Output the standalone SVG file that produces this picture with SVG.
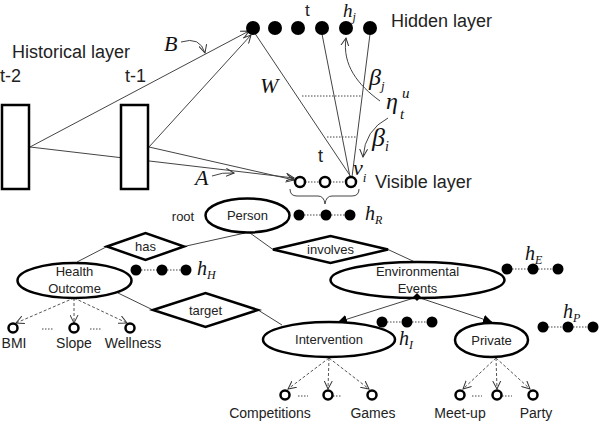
<svg xmlns="http://www.w3.org/2000/svg" width="600" height="421" viewBox="0 0 600 421">
<defs>
<marker id="open" markerWidth="9" markerHeight="9" refX="8" refY="4.5" orient="auto" markerUnits="userSpaceOnUse"><path d="M0,0.5 L8,4.5 L0,8.5" fill="none" stroke="#333" stroke-width="1"/></marker>
<marker id="filled" markerWidth="10" markerHeight="10" refX="9" refY="5" orient="auto" markerUnits="userSpaceOnUse"><path d="M0,0.5 L9,5 L0,9.5 z" fill="#000"/></marker>
<style>
.lbl{font-family:"Liberation Sans",Arial,sans-serif;fill:#222}
.big{font-size:18px}
.node{font-size:13px;text-anchor:middle}
.leaf{font-size:14px;text-anchor:middle}
.math{font-family:"Liberation Serif","Times New Roman",serif;font-style:italic;fill:#111}
.ell{fill:#fff;stroke:#000;stroke-width:2.5}
.box{fill:#fff;stroke:#000;stroke-width:2.5}
.dot{fill:#000}
.open{fill:#fff;stroke:#000;stroke-width:2.5}
.line{stroke:#444;stroke-width:1;fill:none}
.dotted{stroke:#444;stroke-width:1;stroke-dasharray:1.5,1.5;fill:none}
.dash{stroke:#555;stroke-width:1;stroke-dasharray:3,2;fill:none}
</style>
</defs>

<g id="connectors">
<line class="line" x1="30" y1="147" x2="249" y2="31" marker-end="url(#open)"/>
<line class="line" x1="30" y1="147" x2="294" y2="178" marker-end="url(#open)"/>
<line class="line" x1="149" y1="147" x2="251" y2="35" marker-end="url(#open)"/>
<line class="line" x1="149" y1="147" x2="294" y2="180" marker-end="url(#open)"/>
<line class="line" x1="254" y1="32" x2="351" y2="177"/>
<line class="line" x1="322" y1="34" x2="350" y2="177"/>
<line class="line" x1="370" y1="34" x2="352" y2="177"/>
<line class="dotted" x1="302" y1="96" x2="361" y2="96"/>
<line class="dotted" x1="327" y1="137" x2="356" y2="137"/>
<path class="line" d="M181,42 Q200,36 205,53" marker-end="url(#open)"/>
<path class="line" d="M212,176 Q222,172 234,173" marker-end="url(#open)"/>
<path class="line" d="M380,101 C358,85 342,65 346,38" marker-end="url(#open)"/>
<path class="line" d="M388,118 Q365,130 363,157" marker-end="url(#open)"/>
<path class="line" d="M290,189 Q290,196 297,196 L318,196 Q324,196 325,204 Q326,196 332,196 L352,196 Q359,196 359,189"/>
<line class="dotted" x1="305" y1="182" x2="320" y2="182"/>
<line class="dotted" x1="330" y1="182" x2="346" y2="182"/>

<line class="line" x1="245" y1="233" x2="184" y2="246.5"/>
<line class="line" x1="107" y1="246.5" x2="77" y2="262"/>
<line class="line" x1="250" y1="233" x2="273" y2="249.5"/>
<line class="line" x1="388" y1="249.5" x2="415" y2="262"/>
<line class="line" x1="118" y1="293" x2="153" y2="310"/>
<line class="line" x1="258" y1="310" x2="282" y2="325"/>
<line class="line" x1="417" y1="297" x2="338" y2="322" marker-end="url(#filled)"/>
<line class="line" x1="417" y1="297" x2="492" y2="322" marker-end="url(#filled)"/>

<line class="dash" x1="74" y1="298" x2="16" y2="323" marker-end="url(#open)"/>
<line class="dash" x1="74" y1="298" x2="74" y2="323" marker-end="url(#open)"/>
<line class="dash" x1="74" y1="298" x2="127" y2="323" marker-end="url(#open)"/>
<line class="dash" x1="329" y1="358" x2="288" y2="389" marker-end="url(#open)"/>
<line class="dash" x1="329" y1="358" x2="328" y2="389" marker-end="url(#open)"/>
<line class="dash" x1="329" y1="358" x2="369" y2="389" marker-end="url(#open)"/>
<line class="dash" x1="496" y1="358" x2="463" y2="389" marker-end="url(#open)"/>
<line class="dash" x1="496" y1="358" x2="497" y2="389" marker-end="url(#open)"/>
<line class="dash" x1="496" y1="358" x2="530" y2="389" marker-end="url(#open)"/>

<line class="dotted" x1="42" y1="329" x2="53" y2="329"/>
<line class="dotted" x1="90" y1="329" x2="102" y2="329"/>
<line class="dotted" x1="298" y1="396" x2="308" y2="396"/>
<line class="dotted" x1="333" y1="396" x2="341" y2="396"/>
<line class="dotted" x1="472" y1="396" x2="482" y2="396"/>
<line class="dotted" x1="502" y1="396" x2="512" y2="396"/>

<line class="dotted" x1="304" y1="215" x2="321" y2="215"/>
<line class="dotted" x1="331" y1="215" x2="345" y2="215"/>
<line class="dotted" x1="141" y1="270" x2="157" y2="270"/>
<line class="dotted" x1="167" y1="270" x2="181" y2="270"/>
<line class="dotted" x1="512" y1="269" x2="528" y2="269"/>
<line class="dotted" x1="538" y1="269" x2="553" y2="269"/>
<line class="dotted" x1="387" y1="322" x2="402" y2="322"/>
<line class="dotted" x1="412" y1="322" x2="427" y2="322"/>
<line class="dotted" x1="548" y1="327" x2="563" y2="327"/>
<line class="dotted" x1="573" y1="327" x2="588" y2="327"/>
</g>

<g id="historical">
<text class="lbl" x="12" y="58" font-size="18">Historical layer</text>
<text class="lbl big" x="0" y="82">t-2</text>
<text class="lbl big" x="125" y="82">t-1</text>
<rect id="rect-t2" class="box" x="2" y="105" width="27" height="84"/>
<rect id="rect-t1" class="box" x="121" y="105" width="27" height="84"/>
<text class="math" x="164" y="51" font-size="22">B</text>
<text class="math" x="195" y="185" font-size="22">A</text>
</g>

<g id="hidden-layer">
<circle class="dot" cx="253" cy="28" r="7"/>
<circle class="dot" cx="275" cy="28" r="7"/>
<circle class="dot" cx="298" cy="28" r="7"/>
<circle class="dot" cx="322" cy="28" r="7"/>
<circle class="dot" cx="346" cy="28" r="7"/>
<circle class="dot" cx="370" cy="28" r="7"/>
<text class="lbl" x="305" y="16" font-size="17">t</text>
<text class="math" x="343" y="17" font-size="19">h<tspan font-size="12" dy="4">j</tspan></text>
<text class="lbl big" x="391" y="27">Hidden layer</text>
<text class="math" x="260" y="93" font-size="22">W</text>
<text class="math" x="369" y="85" font-size="24">β<tspan font-size="13" dy="5">j</tspan></text>
<text class="math" x="386" y="109" font-size="24">η</text>
<text class="math" x="402" y="98" font-size="15">u</text>
<text class="math" x="400" y="119" font-size="15">t</text>
<text class="math" x="372" y="146" font-size="26">β<tspan font-size="14" dy="5">i</tspan></text>
</g>

<g id="visible-layer">
<circle class="open" cx="300" cy="182" r="5"/>
<circle class="open" cx="325" cy="182" r="5"/>
<circle class="open" cx="351" cy="182" r="5"/>
<text class="lbl big" x="318" y="162">t</text>
<text class="math" x="353" y="175" font-size="22">v<tspan font-size="13" dy="7">i</tspan></text>
<text class="lbl big" x="375" y="188">Visible layer</text>
</g>

<g id="person">
<ellipse class="ell" cx="247.5" cy="215.5" rx="42" ry="17"/>
<text class="lbl node" x="247.5" y="220">Person</text>
<text class="lbl node" x="183" y="221">root</text>
<circle class="dot" cx="299" cy="215" r="5.5"/>
<circle class="dot" cx="326" cy="215" r="5.5"/>
<circle class="dot" cx="350" cy="215" r="5.5"/>
<text class="math" x="365" y="220" font-size="20">h<tspan font-size="12" dy="4">R</tspan></text>
</g>

<g id="has">
<polygon class="box" points="107,246.5 145.5,233 184,246.5 145.5,260"/>
<text class="lbl node" x="145.5" y="251">has</text>
</g>

<g id="involves">
<polygon class="box" points="273,249.5 330.5,236 388,249.5 330.5,263"/>
<text class="lbl node" x="330.5" y="254">involves</text>
</g>

<g id="target">
<polygon class="box" points="153,310 205.5,293 258,310 205.5,327"/>
<text class="lbl node" x="205.5" y="315">target</text>
</g>

<g id="health-outcome">
<ellipse class="ell" cx="74.5" cy="280.5" rx="57" ry="17.5"/>
<text class="lbl node" x="74.5" y="276">Health</text>
<text class="lbl node" x="74.5" y="293">Outcome</text>
<circle class="dot" cx="136" cy="270" r="5.5"/>
<circle class="dot" cx="162" cy="270" r="5.5"/>
<circle class="dot" cx="186" cy="270" r="5.5"/>
<text class="math" x="197" y="275" font-size="20">h<tspan font-size="12" dy="4">H</tspan></text>
</g>

<g id="environmental-events">
<ellipse class="ell" cx="417.5" cy="280" rx="87" ry="18"/>
<text class="lbl node" x="417.5" y="276" font-size="12.5">Environmental</text>
<text class="lbl node" x="417.5" y="293">Events</text>
<polygon fill="#000" points="417,293 421,297 417,301 413,297"/>
<circle class="dot" cx="507" cy="269" r="5.5"/>
<circle class="dot" cx="533" cy="269" r="5.5"/>
<circle class="dot" cx="558" cy="269" r="5.5"/>
<text class="math" x="525" y="260" font-size="20">h<tspan font-size="12" dy="4">E</tspan></text>
</g>

<g id="intervention">
<ellipse class="ell" cx="329" cy="339.5" rx="66" ry="17.5"/>
<text class="lbl node" x="329" y="344" font-size="14">Intervention</text>
<circle class="dot" cx="382" cy="322" r="5.5"/>
<circle class="dot" cx="407" cy="322" r="5.5"/>
<circle class="dot" cx="432" cy="322" r="5.5"/>
<text class="math" x="399" y="345" font-size="20">h<tspan font-size="12" dy="4">I</tspan></text>
</g>

<g id="private">
<ellipse class="ell" cx="491.5" cy="340" rx="36.5" ry="17"/>
<text class="lbl node" x="491.5" y="345">Private</text>
<circle class="dot" cx="543" cy="327" r="5.5"/>
<circle class="dot" cx="568" cy="327" r="5.5"/>
<circle class="dot" cx="593" cy="327" r="5.5"/>
<text class="math" x="563" y="318" font-size="20">h<tspan font-size="12" dy="4">P</tspan></text>
</g>

<g id="leaves">
<circle class="open" cx="13" cy="328" r="4.5"/>
<circle class="open" cx="74" cy="328" r="4.5"/>
<circle class="open" cx="130" cy="328" r="4.5"/>
<text class="lbl leaf" x="14" y="348">BMI</text>
<text class="lbl leaf" x="74" y="348">Slope</text>
<text class="lbl leaf" x="133" y="348">Wellness</text>
<circle class="open" cx="285" cy="395" r="4.5"/>
<circle class="open" cx="328" cy="395" r="4.5"/>
<circle class="open" cx="372" cy="395" r="4.5"/>
<text class="lbl leaf" x="270" y="418">Competitions</text>
<text class="lbl leaf" x="373" y="418">Games</text>
<circle class="open" cx="460" cy="395" r="4.5"/>
<circle class="open" cx="497" cy="395" r="4.5"/>
<circle class="open" cx="533" cy="395" r="4.5"/>
<text class="lbl leaf" x="460" y="418">Meet-up</text>
<text class="lbl leaf" x="536" y="418">Party</text>
</g>
</svg>
